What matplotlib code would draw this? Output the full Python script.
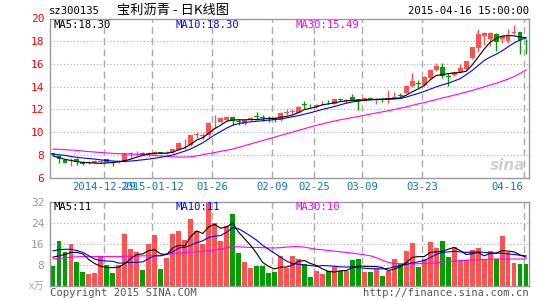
import numpy as np
import matplotlib
matplotlib.use("Agg")
import matplotlib.pyplot as plt

plt.rcParams['font.family'] = ['DejaVu Sans Mono']

# daily candles, 2014-12-16 .. 2015-04-16
opens = [8.12, 7.9, 7.55, 7.42, 7.6, 7.38, 7.24, 7.3, 7.35, 7.6,
         7.35, 7.33, 7.45, 8.1, 8.15, 8.2, 8.08, 8.06, 8.22, 8.1,
         8.22, 8.45, 8.85, 8.85, 9.75, 9.62, 9.7, 10.85, 10.85, 11.08,
         11.32, 11.0, 10.75, 11.06, 11.4, 11.3, 11.22, 11.15, 11.05, 11.7,
         11.75, 11.72, 12.45, 12.4, 12.25, 12.52, 12.68, 12.5, 12.88, 12.72,
         13.08, 12.88, 12.9, 13.0, 12.8, 12.9, 12.78, 13.0, 13.3, 13.45,
         14.02, 14.3, 14.17, 14.75, 15.48, 15.7, 14.92, 14.99, 15.27, 15.57,
         16.5, 17.36, 18.46, 18.23, 18.6, 18.17, 18.0, 18.72, 18.8, 17.85]
highs = [8.2, 8.0, 7.6, 7.76, 7.7, 7.45, 7.42, 7.5, 7.5, 7.65,
         7.45, 7.5, 8.15, 8.25, 8.3, 8.25, 8.25, 8.3, 8.28, 8.3,
         8.55, 9.1, 9.35, 9.78, 10.05, 9.95, 10.85, 11.5, 11.35, 11.42,
         11.38, 11.15, 11.1, 11.3, 11.75, 11.5, 11.38, 11.35, 11.75, 12.0,
         12.05, 12.3, 12.7, 12.5, 12.45, 12.7, 12.8, 12.95, 12.98, 12.9,
         13.35, 12.95, 13.05, 13.1, 13.0, 13.0, 13.7, 13.55, 13.45, 14.05,
         15.2, 14.6, 14.9, 15.55, 16.05, 16.05, 15.2, 15.3, 15.95, 16.3,
         17.5, 19.04, 18.8, 18.85, 18.75, 18.5, 19.1, 19.4, 18.8, 18.17]
lows = [7.95, 7.32, 7.25, 6.97, 7.1, 7.1, 7.18, 7.25, 7.28, 7.35,
        7.05, 7.25, 7.4, 7.75, 7.95, 8.0, 7.8, 8.0, 8.05, 8.05,
        8.15, 8.4, 8.55, 8.75, 9.45, 9.35, 9.6, 10.4, 10.78, 11.0,
        10.6, 10.6, 10.62, 11.0, 11.1, 10.95, 10.9, 10.85, 11.0, 11.5,
        11.55, 11.65, 12.0, 12.2, 12.1, 12.4, 12.5, 12.45, 12.7, 12.6,
        12.7, 11.95, 12.75, 12.8, 12.45, 12.65, 12.55, 12.9, 13.1, 13.4,
        13.95, 13.9, 14.1, 14.7, 15.4, 14.75, 14.1, 14.9, 15.2, 15.5,
        16.4, 17.07, 17.65, 17.6, 17.13, 17.8, 17.8, 18.65, 16.84, 16.84]
closes = [8.0, 7.62, 7.3, 7.48, 7.35, 7.15, 7.38, 7.45, 7.42, 7.4,
          7.32, 7.38, 8.12, 8.15, 8.2, 8.05, 8.12, 8.22, 8.1, 8.2,
          8.47, 9.05, 8.9, 9.72, 9.82, 9.7, 10.82, 10.9, 11.26, 11.35,
          11.0, 10.92, 11.02, 11.25, 11.32, 11.22, 11.15, 11.08, 11.68, 11.75,
          11.82, 12.25, 12.4, 12.35, 12.38, 12.58, 12.62, 12.92, 12.82, 12.78,
          12.78, 12.82, 12.96, 12.95, 12.88, 12.82, 13.0, 13.05, 13.22, 14.02,
          14.46, 14.25, 14.84, 15.5, 15.85, 14.9, 14.88, 15.27, 15.6, 16.26,
          17.45, 18.67, 18.75, 18.75, 17.94, 18.46, 18.58, 18.78, 18.1, 17.8]

ma5 = [7.9, 7.75, 7.6, 7.5, 7.4, 7.33, 7.3, 7.27, 7.25, 7.28,
       7.32, 7.38, 7.48, 7.62, 7.8, 7.95, 8.08, 8.13, 8.14, 8.15,
       8.22, 8.45, 8.62, 8.92, 9.3, 9.5, 9.9, 10.3, 10.6, 10.95,
       11.07, 11.08, 11.08, 11.1, 11.1, 11.15, 11.2, 11.2, 11.3, 11.38,
       11.5, 11.72, 11.98, 12.1, 12.22, 12.4, 12.48, 12.58, 12.68, 12.75,
       12.78, 12.8, 12.83, 12.86, 12.88, 12.9, 12.92, 12.95, 13.02, 13.25,
       13.55, 13.8, 14.1, 14.6, 14.98, 15.05, 15.15, 15.2, 15.25, 15.35,
       15.9, 16.6, 17.3, 17.9, 18.25, 18.45, 18.5, 18.47, 18.38, 18.3]
ma10 = [8.06, 8.0, 7.95, 7.85, 7.78, 7.72, 7.67, 7.62, 7.55, 7.5,
        7.45, 7.42, 7.42, 7.45, 7.5, 7.56, 7.62, 7.7, 7.78, 7.88,
        7.98, 8.15, 8.32, 8.52, 8.78, 9.05, 9.4, 9.75, 10.05, 10.35,
        10.6, 10.75, 10.85, 10.9, 10.95, 11.0, 11.05, 11.1, 11.15, 11.25,
        11.35, 11.45, 11.58, 11.7, 11.85, 12.0, 12.12, 12.25, 12.4, 12.55,
        12.65, 12.72, 12.8, 12.84, 12.86, 12.88, 12.9, 12.92, 12.95, 13.08,
        13.25, 13.4, 13.58, 13.78, 13.98, 14.15, 14.3, 14.5, 14.7, 15.05,
        15.42, 15.85, 16.3, 16.6, 16.85, 17.15, 17.5, 17.85, 18.1, 18.3]
ma30 = [8.5, 8.48, 8.45, 8.42, 8.38, 8.33, 8.28, 8.24, 8.2, 8.16,
        8.12, 8.1, 8.08, 8.06, 8.04, 8.02, 8.0, 7.95, 7.9, 7.85,
        7.82, 7.8, 7.8, 7.82, 7.9, 8.0, 8.1, 8.2, 8.3, 8.4,
        8.5, 8.65, 8.8, 8.95, 9.1, 9.25, 9.4, 9.55, 9.7, 9.85,
        10.0, 10.15, 10.3, 10.45, 10.6, 10.72, 10.85, 10.97, 11.08, 11.18,
        11.28, 11.38, 11.48, 11.58, 11.68, 11.78, 11.88, 11.98, 12.1, 12.22,
        12.35, 12.48, 12.6, 12.73, 12.86, 13.0, 13.12, 13.25, 13.38, 13.52,
        13.66, 13.82, 13.98, 14.14, 14.3, 14.48, 14.66, 14.88, 15.15, 15.49]

# volume, x10k shares
volume = [7.5, 17, 13, 16, 9, 5.5, 4.5, 5, 11.5, 8,
          5, 8, 20, 14, 13, 6, 16, 19.5, 6.5, 10.5,
          20, 21, 17.5, 25.5, 21, 16, 32, 24, 17, 23,
          27.5, 12.5, 9, 7, 7.5, 7.5, 5, 5.5, 11.5, 7,
          11.5, 10.4, 8.2, 3.6, 5.9, 4.4, 5.9, 7.1, 5.9, 5.9,
          10, 10.4, 5.3, 5.3, 6.5, 4, 5.9, 10.4, 8.4, 13.4,
          16.2, 7.4, 10.3, 16.8, 14.6, 17.2, 11.2, 14.7, 9.7, 10,
          13.8, 14.3, 10.4, 13.4, 10.4, 19, 12.8, 8.7, 8.2, 8.2]
vma5 = [11, 11.5, 12, 12.8, 12.8, 12.2, 10, 8.5, 7.5, 7,
        7, 7.2, 8.5, 10.5, 12, 12.2, 13.5, 13.8, 12.2, 12,
        14.5, 15.5, 15.2, 18.8, 21, 20, 22.5, 23.5, 22, 22.5,
        24, 20.5, 18, 15.5, 12.5, 9, 7.5, 6.5, 7.2, 7.2,
        8, 9.4, 9.7, 8.6, 7.8, 6.5, 5.6, 5.3, 5.8, 5.9,
        7, 7.7, 7.5, 7.4, 7.4, 7, 5.9, 6.4, 7.4, 8.9,
        10.9, 11.2, 11.2, 12.8, 13, 13.2, 14, 14.7, 13.5, 12,
        12.3, 12.8, 11.5, 12.4, 12.5, 13.5, 13.3, 13, 11.8, 11]
vma10 = [13.4, 13.8, 14, 14, 13.5, 12.8, 11.5, 10.2, 9.7, 9.5,
         9.4, 8.7, 8.8, 9, 9, 9.2, 10.5, 11.5, 11.5, 12.2,
         13, 14.5, 14.7, 15.5, 16.5, 17.2, 18.5, 19, 19.2, 20.5,
         22.2, 21.8, 20.5, 19, 17.5, 15.5, 14, 12.5, 11, 9.5,
         8.5, 8.3, 8, 7.8, 7.5, 7.8, 7.7, 7.5, 7.3, 7.2,
         7.3, 7.0, 6.8, 6.6, 6.6, 6.5, 6.7, 7.3, 7.8, 8.2,
         8.8, 9.2, 9.7, 10.8, 12, 12.8, 13, 13.2, 13, 12.8,
         12.9, 13, 12.8, 12.6, 12.5, 12.5, 12.2, 12, 11.7, 11.5]
vma30 = [10.3, 10.5, 10.7, 11.0, 11.1, 11.2, 11.2, 11.2, 11.2, 11.2,
         11.2, 11.2, 11.3, 11.3, 11.4, 11.5, 11.5, 11.5, 11.6, 12.0,
         12.4, 12.5, 12.7, 12.9, 13.0, 13.2, 13.5, 13.7, 14.1, 14.6,
         15.0, 14.9, 14.8, 14.7, 14.7, 14.6, 14.5, 14.5, 14.6, 14.8,
         15.0, 15.0, 14.8, 14.4, 14.0, 13.8, 13.5, 13.3, 13.0, 12.8,
         12.5, 12.2, 11.9, 11.5, 10.8, 9.8, 9.0, 8.6, 8.5, 8.5,
         8.4, 8.5, 8.6, 8.7, 8.9, 9.1, 9.3, 9.5, 9.7, 9.8,
         9.9, 10.0, 10.1, 10.2, 10.3, 10.3, 10.3, 10.3, 10.3, 10.3]

date_idx = [9, 17, 27, 37, 44, 52, 62, 79]
date_lab = ["2014-12-29", "2015-01-12", "01-26", "02-09", "02-25", "03-09", "03-23", "04-16"]

RED = "#ff5252"
GREEN = "#009e00"
GRID = "#aaaaaa"

W, H = 545, 300
fig = plt.figure(figsize=(W / 100, H / 100), dpi=100)

def fx(x):
    return x / W

def fy(y):
    return 1 - y / H

ax = fig.add_axes([fx(50), fy(177.5), 479 / W, 159 / H])
ax2 = fig.add_axes([fx(50), fy(286), 479 / W, 84 / H])

x = np.arange(len(closes))
o = np.array(opens)
c = np.array(closes)
up = c >= o
cols = np.where(up, RED, GREEN)

# grid
for lv in range(8, 20, 2):
    ax.axhline(lv, color=GRID, lw=0.8, ls=(0, (1, 2)), zorder=0)
for lv in [8, 16, 24]:
    ax2.axhline(lv, color=GRID, lw=0.8, ls=(0, (1, 2)), zorder=0)
for d in date_idx:
    ax.axvline(d - 0.4, color=GRID, lw=1, ls=(0, (5, 3)), zorder=0)
    ax2.axvline(d - 0.4, color=GRID, lw=1, ls=(0, (5, 3)), zorder=0)

# candles
ax.vlines(x, lows, highs, colors=cols, lw=1, zorder=2)
body = np.maximum(np.abs(c - o), 0.05)
ax.bar(x, body, bottom=np.minimum(o, c), width=0.82, color=cols, zorder=3)

ax.plot(x, ma30, color="#ff00ff", lw=0.8, zorder=4)
ax.plot(x, ma10, color="#0000ff", lw=0.8, zorder=4)
ax.plot(x, ma5, color="black", lw=0.8, zorder=4)

# volume
ax2.bar(x, volume, width=0.82, color=cols, zorder=2)
ax2.plot(x, vma30, color="#ff00ff", lw=0.8, zorder=4)
ax2.plot(x, vma10, color="#0000ff", lw=0.8, zorder=4)
ax2.plot(x, vma5, color="black", lw=0.8, zorder=4)

for a in (ax, ax2):
    a.set_xlim(-0.5, len(closes) - 0.5)
    a.set_xticks([])
    for s in a.spines.values():
        s.set_color("#999999")
        s.set_linewidth(1)

ax.set_ylim(6, 20)
ax.set_yticks(range(6, 21, 2))
ax.tick_params(axis="y", length=0, pad=4, labelcolor="red", labelsize=8)
ax2.set_ylim(0, 32)
ax2.set_yticks([8, 16, 24, 32])
ax2.tick_params(axis="y", length=0, pad=4, labelcolor="#999999", labelsize=8)

# date labels
fs = 7.6
for d, lab in zip(date_idx, date_lab):
    xp = 50 + (d - 0.4 + 0.5) * 479 / len(closes)
    ha = "center"
    if d == date_idx[-1]:
        xp, ha = 523, "right"
    fig.text(fx(xp), fy(187), lab, color="#0a78c8", fontsize=fs, ha=ha, va="center")

# header
fig.text(fx(49), fy(11), "sz300135", fontsize=fs, va="center")
fig.text(fx(117), fy(10), "宝利沥青 - 日K线图", fontsize=9.5, va="center",
         family=["Noto Sans CJK SC", "DejaVu Sans"])
fig.text(fx(529), fy(11), "2015-04-16 15:00:00", fontsize=fs, ha="right", va="center")

fig.text(fx(53), fy(25), "MA5:18.30", fontsize=fs, va="center", color="black")
fig.text(fx(175), fy(25), "MA10:18.30", fontsize=fs, va="center", color="#0000ff")
fig.text(fx(296), fy(25), "MA30:15.49", fontsize=fs, va="center", color="#ff00ff")
fig.text(fx(53), fy(207), "MA5:11", fontsize=fs, va="center", color="black", zorder=5)
fig.text(fx(175), fy(207), "MA10:11", fontsize=fs, va="center", color="#0000ff", zorder=5)
fig.text(fx(296), fy(207), "MA30:10", fontsize=fs, va="center", color="#ff00ff", zorder=5)

fig.text(fx(29), fy(287), "x万", fontsize=7.5, va="center", color="#aaaaaa",
         family=["Noto Sans CJK SC", "DejaVu Sans"])
fig.text(fx(50), fy(293), "Copyright 2015 SINA.COM", fontsize=fs, va="center", color="#555555")
fig.text(fx(529), fy(293), "http://finance.sina.com.cn", fontsize=fs, ha="right",
         va="center", color="#555555")

# watermark
fig.text(fx(525), fy(166), "sina", fontsize=11, ha="right", va="center", color="#d0d0d0",
         style="italic", weight="bold", family=["DejaVu Sans"])

fig.savefig("out.png", dpi=100)
